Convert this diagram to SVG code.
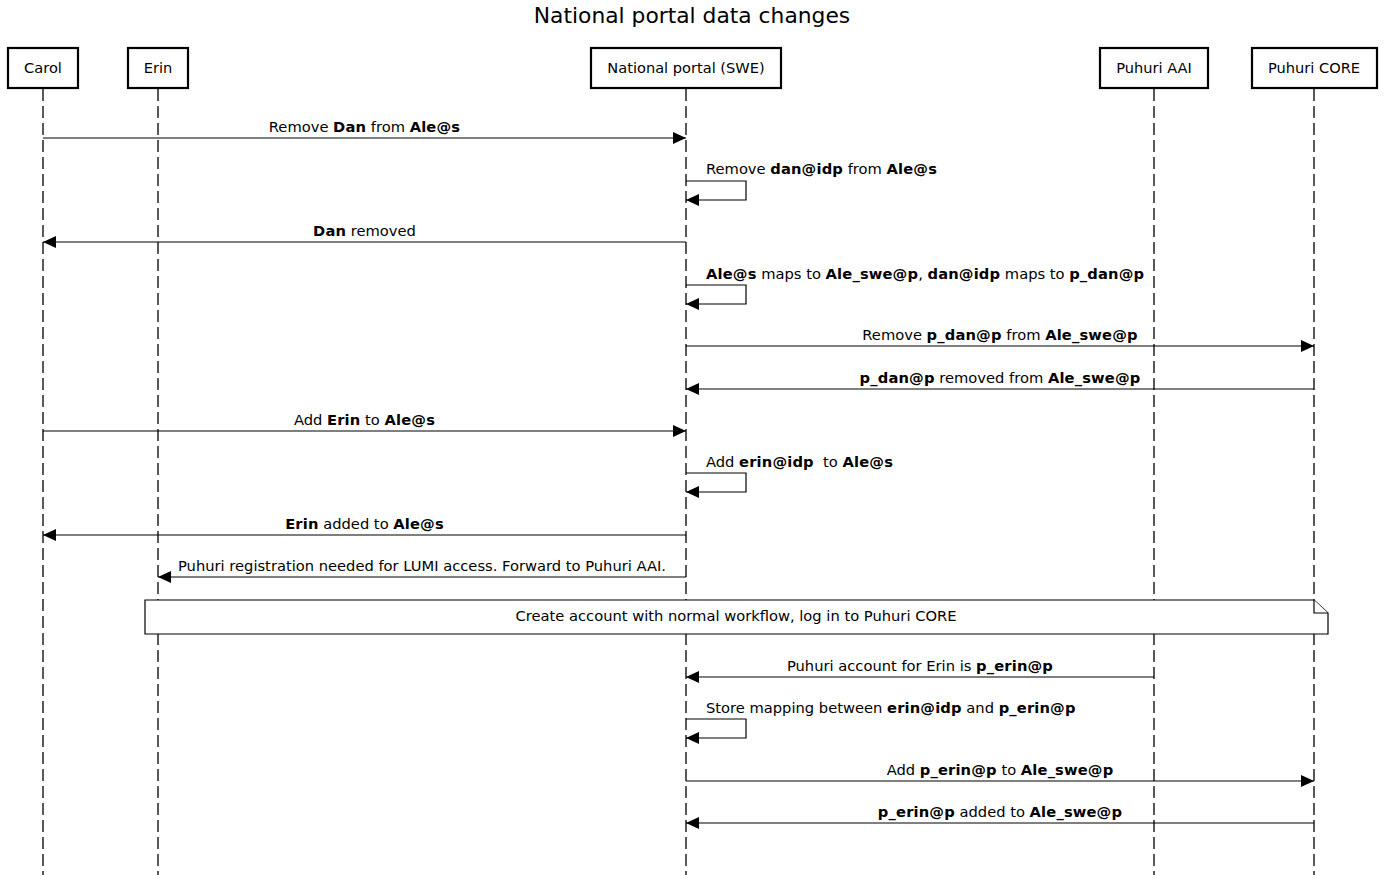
<svg xmlns="http://www.w3.org/2000/svg" width="1384" height="875" viewBox="0 0 1384 875">
<style>
text{font-family:"DejaVu Sans","Liberation Sans",sans-serif;fill:#000}
.title{font-size:21.8px;text-anchor:middle}
.pt{font-size:14.6px;text-anchor:middle}
.lbl{font-size:14.7px;text-anchor:middle;white-space:pre}
.sl{font-size:14.7px;text-anchor:start;white-space:pre}
.b{font-weight:bold;letter-spacing:0.15px}
.box{fill:#fff;stroke:#000;stroke-width:2.2}
.life{stroke:#000;stroke-width:1.3;stroke-dasharray:12,5;fill:none}
.msg{stroke:#000;stroke-width:1.2;fill:none;marker-end:url(#ah)}
.note{fill:#fff;stroke:#000;stroke-width:1.2}
</style>
<defs>
<marker id="ah" markerUnits="userSpaceOnUse" markerWidth="13" markerHeight="12" refX="13" refY="6" orient="auto">
<path d="M0,0 L13,6 L0,12 z" fill="#000"/>
</marker>
</defs>
<rect width="1384" height="875" fill="#fff"/>
<text class="title" x="692" y="23">National portal data changes</text>

<g id="lifelines">
<line class="life" x1="43" y1="89" x2="43" y2="875"/>
<line class="life" x1="158" y1="89" x2="158" y2="875"/>
<line class="life" x1="686" y1="89" x2="686" y2="875"/>
<line class="life" x1="1154" y1="89" x2="1154" y2="875"/>
<line class="life" x1="1314" y1="89" x2="1314" y2="875"/>
</g>

<g id="carol"><rect class="box" x="8" y="48" width="70" height="40"/><text class="pt" x="43" y="73">Carol</text></g>
<g id="erin"><rect class="box" x="128" y="48" width="60" height="40"/><text class="pt" x="158" y="73">Erin</text></g>
<g id="portal"><rect class="box" x="591" y="48" width="190" height="40"/><text class="pt" x="686" y="73">National portal (SWE)</text></g>
<g id="aai"><rect class="box" x="1100" y="48" width="108" height="40"/><text class="pt" x="1154" y="73">Puhuri AAI</text></g>
<g id="core"><rect class="box" x="1252" y="48" width="125" height="40"/><text class="pt" x="1314" y="73">Puhuri CORE</text></g>

<g id="connectors">
<line class="msg" x1="43" y1="138" x2="686" y2="138"/>
<text class="lbl" x="364.5" y="132">Remove <tspan class="b">Dan</tspan> from <tspan class="b">Ale@s</tspan></text>

<path class="msg" d="M686,181 H746 V200 H686"/>
<text class="sl" x="706" y="174">Remove <tspan class="b">dan@idp</tspan> from <tspan class="b">Ale@s</tspan></text>

<line class="msg" x1="686" y1="242" x2="43" y2="242"/>
<text class="lbl" x="364.5" y="236"><tspan class="b">Dan</tspan> removed</text>

<path class="msg" d="M686,285 H746 V304 H686"/>
<text class="sl" x="706" y="279"><tspan class="b">Ale@s</tspan> maps to <tspan class="b">Ale_swe@p</tspan>, <tspan class="b">dan@idp</tspan> maps to <tspan class="b">p_dan@p</tspan></text>

<line class="msg" x1="686" y1="346" x2="1314" y2="346"/>
<text class="lbl" x="1000" y="340">Remove <tspan class="b">p_dan@p</tspan> from <tspan class="b">Ale_swe@p</tspan></text>

<line class="msg" x1="1314" y1="389" x2="686" y2="389"/>
<text class="lbl" x="1000" y="383"><tspan class="b">p_dan@p</tspan> removed from <tspan class="b">Ale_swe@p</tspan></text>

<line class="msg" x1="43" y1="431" x2="686" y2="431"/>
<text class="lbl" x="364.5" y="425">Add <tspan class="b">Erin</tspan> to <tspan class="b">Ale@s</tspan></text>

<path class="msg" d="M686,473 H746 V492 H686"/>
<text class="sl" x="706" y="467">Add <tspan class="b">erin@idp</tspan>  to <tspan class="b">Ale@s</tspan></text>

<line class="msg" x1="686" y1="535" x2="43" y2="535"/>
<text class="lbl" x="364.5" y="529"><tspan class="b">Erin</tspan> added to <tspan class="b">Ale@s</tspan></text>

<line class="msg" x1="686" y1="577" x2="158" y2="577"/>
<text class="lbl" x="422" y="571">Puhuri registration needed for LUMI access. Forward to Puhuri AAI.</text>

<line class="msg" x1="1154" y1="677" x2="686" y2="677"/>
<text class="lbl" x="920" y="671">Puhuri account for Erin is <tspan class="b">p_erin@p</tspan></text>

<path class="msg" d="M686,719 H746 V738 H686"/>
<text class="sl" x="706" y="713">Store mapping between <tspan class="b">erin@idp</tspan> and <tspan class="b">p_erin@p</tspan></text>

<line class="msg" x1="686" y1="781" x2="1314" y2="781"/>
<text class="lbl" x="1000" y="775">Add <tspan class="b">p_erin@p</tspan> to <tspan class="b">Ale_swe@p</tspan></text>

<line class="msg" x1="1314" y1="823" x2="686" y2="823"/>
<text class="lbl" x="1000" y="817"><tspan class="b">p_erin@p</tspan> added to <tspan class="b">Ale_swe@p</tspan></text>
</g>

<g id="note">
<path class="note" d="M145,600 H1314 L1328,613 V634 H145 Z"/>
<path class="note" d="M1314,600 V613 H1328" fill="none"/>
<text class="lbl" x="736" y="621">Create account with normal workflow, log in to Puhuri CORE</text>
</g>
</svg>
